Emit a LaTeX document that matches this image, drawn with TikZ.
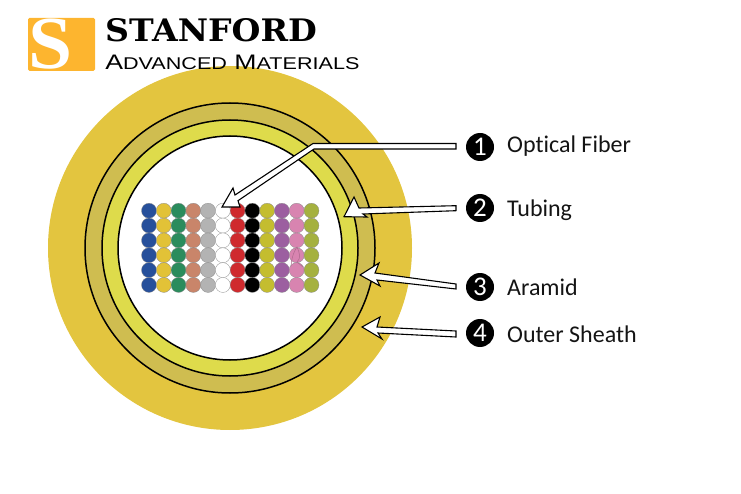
\documentclass[tikz,border=0pt]{standalone}
\usepackage{fontspec}
\setmainfont{Carlito}[Ligatures=NoCommon]
\newfontfamily\logoheavy{DejaVu Serif}[BoldFont={DejaVu Serif Bold}]
\newfontfamily\logolight{Liberation Sans}
\newfontfamily\logos{Liberation Serif}[BoldFont={Liberation Serif Bold}]
\definecolor{sheath}{HTML}{E3C53F}
\definecolor{aramid}{HTML}{CFBD50}
\definecolor{tubing}{HTML}{DEDB4B}
\definecolor{logoorange}{HTML}{FDB52F}
\definecolor{fa}{HTML}{27509B}
\definecolor{fb}{HTML}{E2C237}
\definecolor{fc}{HTML}{2B8C5D}
\definecolor{fd}{HTML}{C9856A}
\definecolor{fe}{HTML}{B3B3B3}
\definecolor{ff}{HTML}{FFFFFF}
\definecolor{fg}{HTML}{CF2A2E}
\definecolor{fh}{HTML}{000000}
\definecolor{fi}{HTML}{C4BD2F}
\definecolor{fj}{HTML}{9C5FA0}
\definecolor{fk}{HTML}{D884B0}
\definecolor{fl}{HTML}{A5B13F}
\tikzset{
  ringline/.style={draw=black,line width=1.5pt},
  fibre/.style={draw=black!45,line width=0.3pt},
  pointer/.style={draw=black,fill=white,line width=1.1pt,line join=miter},
  bullet/.style={circle,fill=black,text=white,inner sep=0pt,minimum size=28pt,font=\fontsize{27}{27}\selectfont},
  callout/.style={anchor=west,inner sep=0pt,text=black!92,font=\fontsize{24}{26}\selectfont}
}
\begin{document}
\begin{tikzpicture}[x=1pt,y=-1pt]
\useasboundingbox (0,0) rectangle (741,494);
% cable
\fill[sheath] (230,248) circle (182);
\filldraw[fill=aramid,ringline] (230,248) circle (145);
\filldraw[fill=tubing,ringline] (230,248) circle (128);
\filldraw[fill=white,ringline] (230,248) circle (112);
% fibres
\foreach \c [count=\i from 0] in {fa,fb,fc,fd,fe,ff,fg,fh,fi,fj,fk,fl}{
  \foreach \j in {0,...,5}{
    \filldraw[fill=\c,fibre] ({149+14.77*\i},{210.7+14.85*\j}) circle (7.5);
  }
}
\draw[fk!80!black,line width=0.5pt] (291,266) .. controls (292,255) and (295,250) .. (297,247) .. controls (300,254) and (301,258) .. (297,262) -- (303,267);
% logo
\fill[logoorange,rounded corners=1.5pt] (28,18) rectangle (95,71);
\begin{scope}
\clip (28,18) rectangle (95,71);
\node[text=white,inner sep=0pt,xscale=1.1,yscale=1.04,font=\logos\bfseries\fontsize{72}{72}\selectfont] (logoS) at (51,44.5) {S};
\end{scope}
\node[anchor=west,inner sep=0pt,xscale=1.07,font=\logoheavy\bfseries\fontsize{31}{31}\selectfont] (logoA) at (105,30) {STANFORD};
\node[anchor=west,inner sep=0pt,xscale=1.27,font=\logolight\fontsize{21}{22}\selectfont] (logoB) at (105,62.5) {A{\fontsize{17}{17}\selectfont DVANCED} M{\fontsize{17}{17}\selectfont ATERIALS}};
% pointers
\draw[pointer] (456,143.5) -- (313,143.5) -- (235,195) -- (233,188) -- (222,207) -- (240,207) -- (238,200.7) -- (314,149) -- (456,149) -- cycle;
\draw[pointer] (456,205.7) -- (359,208) -- (354,197) -- (344,216.7) -- (367,217) -- (363,214) -- (456,210.7) -- cycle;
\draw[pointer] (456,284) -- (375,273) -- (379,263) -- (360,275) -- (380,286) -- (377,280) -- (456,289) -- cycle;
\draw[pointer] (456,331) -- (377,327) -- (380,317) -- (362,327) -- (382,339) -- (378,333) -- (456,337) -- cycle;
% labels
\node[bullet] (b1) at (480,147) {1};
\node[bullet] (b2) at (480,208) {2};
\node[bullet] (b3) at (480,287) {3};
\node[bullet] (b4) at (480,333) {4};
\node[callout] (t1) at (507,146.5) {Optical Fiber};
\node[callout] (t2) at (507,210.5) {Tubing};
\node[callout] (t3) at (507,287.5) {Aramid};
\node[callout] (t4) at (507,334) {Outer Sheath};
\end{tikzpicture}
\end{document}
